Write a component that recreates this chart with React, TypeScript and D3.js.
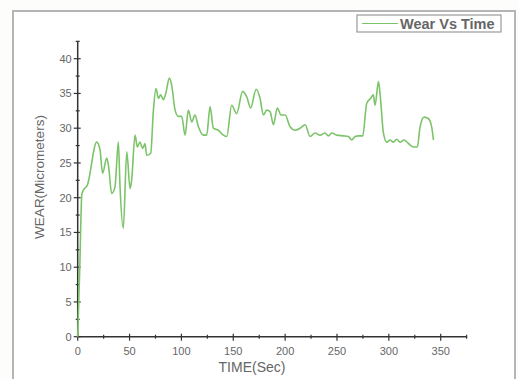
import { useEffect, useRef } from 'react';
import * as d3 from 'd3';

// Wear vs time
const times = [
  0, 2, 4, 5.5, 9.3, 18.3, 21.5, 24, 28, 29.6, 32.8, 36, 39.2, 40.8, 44, 47.3, 50.5, 52, 55.3, 57.5,
  60, 62.7, 64.9, 66.5, 70.4, 73, 75.5, 77.8, 80, 82.6, 84.9, 88.4, 90.6, 93.9, 97, 100.3, 103.5, 106.7,
  110, 113, 116.4, 121, 124.4, 127.6, 130.8, 135.6, 140.5, 143.7, 148.5, 153.3, 159, 163, 166.8, 172,
  175.8, 179, 182.3, 185.5, 188.7, 192.5, 196, 200, 204.8, 209.6, 214.4, 219.3, 224.1, 228.9, 233.7,
  238.5, 241.7, 245, 249.8, 256, 261, 264.2, 267.4, 270.7, 274.8, 278.7, 282.5, 285, 286.7, 290, 291.5,
  294.8, 298, 301.2, 304.4, 307.6, 310.8, 314.7, 318.9, 323.7, 327.5, 330.1, 334, 338, 341.3, 343,
];
const wear = [
  0, 10, 20.5, 21.1, 21.8, 28, 26.9, 23.5, 25.7, 24.7, 20.6, 21.6, 28, 21.6, 15.6, 26.6, 21.3, 22.5, 29, 27.3,
  28, 27.1, 27.8, 26.1, 26.4, 32.6, 35.7, 34.3, 34.8, 34.1, 35, 37.2, 36.2, 32.6, 31.7, 31.7, 29, 32.6,
  30.9, 31.9, 30.2, 29, 29, 33.1, 30, 29.7, 29, 28.8, 33.3, 32.1, 35.3, 34.5, 32.9, 35.6,
  34.3, 31.9, 32.6, 32.4, 30.5, 32.9, 31.9, 31.9, 30.2, 29.7, 30, 30.5, 28.8, 29.3, 29,
  29.3, 28.9, 29.3, 29, 28.9, 28.8, 28.3, 28.8, 28.9, 28.9, 33.6, 34.3, 34.8, 33.3, 36.7, 35,
  29.3, 28, 28.3, 28, 28.4, 28, 28.3, 27.8, 27.3, 27.3, 30.2, 31.6, 31.4, 30.2, 28.3,
];
const xTicks = [0, 50, 100, 150, 200, 250, 300, 350];
const yTicks = [0, 5, 10, 15, 20, 25, 30, 35, 40];

export default function App() {
  const svgRef = useRef<SVGSVGElement>(null);

  useEffect(() => {
    const svg = d3.select(svgRef.current);
    svg.selectAll('*').remove();

    const left = 77.7;
    const bottom = 336.7;
    const x = d3.scaleLinear().domain([0, 350]).range([left, 440.7]);
    const y = d3.scaleLinear().domain([0, 40]).range([bottom, 58.7]);

    svg.append('rect').attr('width', 518).attr('height', 379).attr('fill', '#fdfdfb');
    // outer frame
    svg.append('rect')
      .attr('x', 13).attr('y', 11).attr('width', 502).attr('height', 380)
      .attr('fill', '#ffffff').attr('stroke', '#b5b5b5').attr('stroke-width', 2);

    const font = 'Liberation Sans, Arial, sans-serif';

    // x axis
    const xAxis = svg.append('g').attr('transform', `translate(0,${bottom})`);
    xAxis.append('line').attr('x1', left).attr('x2', x(375)).attr('stroke', '#333').attr('stroke-width', 1.5);
    xAxis.selectAll('.minor')
      .data(d3.range(25, 376, 50))
      .join('line')
      .attr('x1', d => x(d)).attr('x2', d => x(d))
      .attr('y1', -2).attr('y2', 2)
      .attr('stroke', '#333').attr('stroke-width', 1.2);
    xAxis.selectAll('.major')
      .data(xTicks)
      .join('line')
      .attr('x1', d => x(d)).attr('x2', d => x(d))
      .attr('y1', -3).attr('y2', 4)
      .attr('stroke', '#333').attr('stroke-width', 1.2);
    xAxis.selectAll('text')
      .data(xTicks)
      .join('text')
      .attr('x', d => x(d)).attr('y', 18)
      .attr('text-anchor', 'middle')
      .attr('font-family', font).attr('font-size', 11).attr('fill', '#666')
      .text(d => d);

    // y axis
    const yAxis = svg.append('g').attr('transform', `translate(${left},0)`);
    yAxis.append('line').attr('y1', bottom).attr('y2', y(42.5)).attr('stroke', '#333').attr('stroke-width', 1.5);
    yAxis.selectAll('.minor')
      .data(d3.range(2.5, 43, 5))
      .join('line')
      .attr('y1', d => y(d)).attr('y2', d => y(d))
      .attr('x1', -2).attr('x2', 2)
      .attr('stroke', '#333').attr('stroke-width', 1.2);
    yAxis.selectAll('.major')
      .data(yTicks)
      .join('line')
      .attr('y1', d => y(d)).attr('y2', d => y(d))
      .attr('x1', -4).attr('x2', 3)
      .attr('stroke', '#333').attr('stroke-width', 1.2);
    yAxis.selectAll('text')
      .data(yTicks)
      .join('text')
      .attr('x', -6).attr('y', d => y(d) + 4)
      .attr('text-anchor', 'end')
      .attr('font-family', font).attr('font-size', 11).attr('fill', '#666')
      .text(d => d);

    // axis titles
    svg.append('text')
      .attr('x', 252).attr('y', 372)
      .attr('text-anchor', 'middle')
      .attr('font-family', font).attr('font-size', 14).attr('fill', '#666')
      .text('TIME(Sec)');
    svg.append('text')
      .attr('transform', `translate(44,${177}) rotate(-90)`)
      .attr('text-anchor', 'middle')
      .attr('font-family', font).attr('font-size', 13.5).attr('fill', '#666')
      .text('WEAR(Micrometers)');

    // data line
    const line = d3.line<number>()
      .x((_, i) => x(times[i]))
      .y(d => y(d))
      .curve(d3.curveMonotoneX);
    svg.append('path')
      .datum(wear)
      .attr('d', line)
      .attr('fill', 'none')
      .attr('stroke', '#7cc46a')
      .attr('stroke-width', 1.6)
      .attr('stroke-linejoin', 'round');

    // legend
    const lg = svg.append('g');
    lg.append('rect')
      .attr('x', 357).attr('y', 15).attr('width', 144).attr('height', 17)
      .attr('fill', '#fff').attr('stroke', '#999').attr('stroke-width', 1.2);
    lg.append('line')
      .attr('x1', 362).attr('x2', 398).attr('y1', 23.5).attr('y2', 23.5)
      .attr('stroke', '#7cc46a').attr('stroke-width', 1.2);
    lg.append('text')
      .attr('x', 400).attr('y', 28.5)
      .attr('font-family', font).attr('font-size', 14.5).attr('font-weight', 'bold').attr('fill', '#666')
      .text('Wear Vs Time');
  }, []);

  return (
    <svg
      ref={svgRef}
      width={518}
      height={379}
      style={{ position: 'absolute', left: 0, top: 0 }}
    />
  );
}
